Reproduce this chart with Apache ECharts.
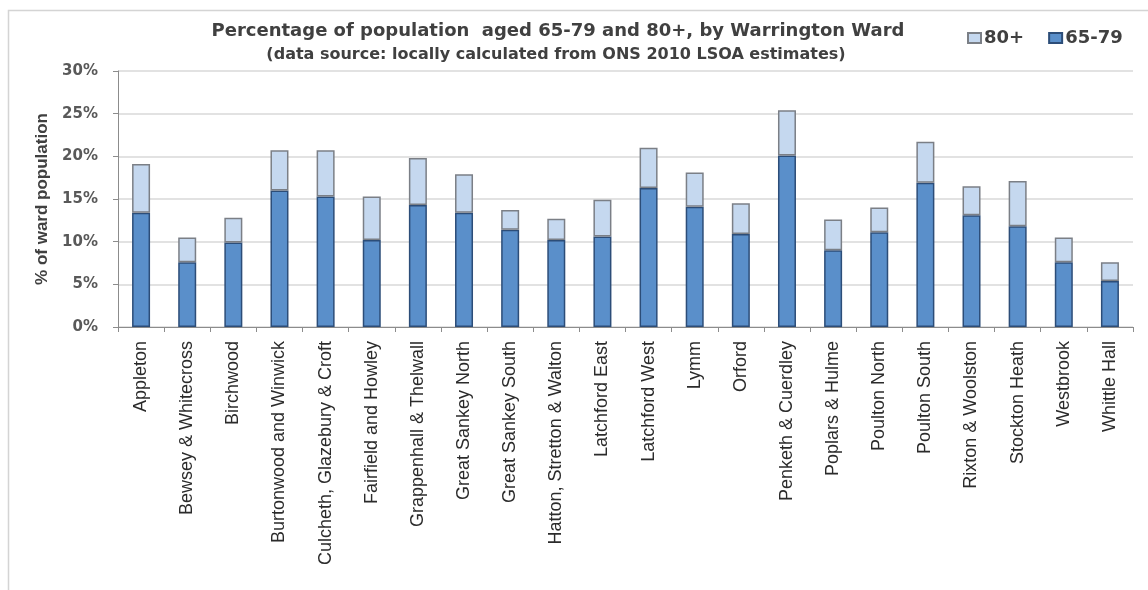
<!DOCTYPE html>
<html>
<head>
<meta charset="utf-8">
<script src="https://cdn.jsdelivr.net/npm/echarts@6/dist/echarts.min.js"></script>
<style>
  html, body { margin: 0; padding: 0; background: #ffffff; }
  #chart { width: 1148px; height: 590px; }
</style>
</head>
<body>
<div id="chart"></div>
<script>
// Warrington wards
const wards = [
  'Appleton', 'Bewsey & Whitecross', 'Birchwood', 'Burtonwood and Winwick',
  'Culcheth, Glazebury & Croft', 'Fairfield and Howley', 'Grappenhall & Thelwall',
  'Great Sankey North', 'Great Sankey South', 'Hatton, Stretton & Walton',
  'Latchford East', 'Latchford West', 'Lymm', 'Orford', 'Penketh & Cuerdley',
  'Poplars & Hulme', 'Poulton North', 'Poulton South', 'Rixton & Woolston',
  'Stockton Heath', 'Westbrook', 'Whittle Hall'
];

// % of ward population aged 65-79
const aged65to79 = [13.4, 7.6, 9.9, 16.0, 15.3, 10.2, 14.3, 13.4, 11.4, 10.2, 10.6,
  16.3, 14.1, 10.9, 20.1, 9.0, 11.1, 16.9, 13.1, 11.8, 7.6, 5.4];

// % of ward population aged 80+
const aged80plus = [5.7, 2.9, 2.9, 4.7, 5.4, 5.1, 5.5, 4.5, 2.3, 2.5, 4.3,
  4.7, 4.0, 3.6, 5.3, 3.6, 2.9, 4.8, 3.4, 5.3, 2.9, 2.2];

// y-axis ticks (percent)
const yTicks = [0, 5, 10, 15, 20, 25, 30];

const chart = echarts.init(document.getElementById('chart'));

chart.setOption({
  backgroundColor: '#ffffff',
  animation: false,
  title: [
    {
      text: 'Percentage of population  aged 65-79 and 80+, by Warrington Ward',
      left: 553, top: 17, textAlign: 'center',
      textStyle: { fontFamily: 'DejaVu Sans', fontSize: 18, fontWeight: 'bold', color: '#404040' }
    },
    {
      text: '(data source: locally calculated from ONS 2010 LSOA estimates)',
      left: 551, top: 42, textAlign: 'center',
      textStyle: { fontFamily: 'DejaVu Sans', fontSize: 16, fontWeight: 'bold', color: '#404040' }
    }
  ],
  legend: {
    data: ['80+', '65-79'],
    left: 962, top: 24,
    icon: 'rect',
    itemWidth: 13, itemHeight: 10, itemGap: 24,
    textStyle: { fontFamily: 'DejaVu Sans', fontSize: 18, fontWeight: 'bold', color: '#404040', padding: [0, 0, 0, -2] }
  },
  graphic: [
    {
      type: 'rect', silent: true, z: -10,
      shape: { x: 8.5, y: 10.5, width: 1200, height: 700 },
      style: { fill: 'none', stroke: '#d4d4d4', lineWidth: 1.5 }
    }
  ],
  grid: { left: 118, right: 15, top: 71, bottom: 263, containLabel: false },
  xAxis: {
    type: 'category',
    data: wards,
    axisLine: { lineStyle: { color: '#8c8c8c', width: 1 } },
    axisTick: { show: true, length: 5, alignWithLabel: false, lineStyle: { color: '#8c8c8c' } },
    axisLabel: {
      interval: 0, rotate: 90, margin: 14,
      fontFamily: 'Liberation Sans', fontSize: 18, color: '#2b2b2b'
    }
  },
  yAxis: {
    type: 'value',
    min: yTicks[0], max: yTicks[yTicks.length - 1], interval: 5,
    name: '% of ward population',
    nameLocation: 'middle', nameGap: 62, nameRotate: 90,
    nameTextStyle: { fontFamily: 'Liberation Sans', fontSize: 17, fontWeight: 'bold', color: '#404040' },
    axisLine: { show: true, lineStyle: { color: '#8c8c8c' } },
    axisTick: { show: true, length: 5, lineStyle: { color: '#8c8c8c' } },
    axisLabel: {
      formatter: v => v + '%', margin: 20,
      fontFamily: 'DejaVu Sans', fontSize: 15, fontWeight: 'bold', color: '#595959'
    },
    splitLine: { lineStyle: { color: '#d9d9d9', width: 1.5 } }
  },
  series: [
    {
      name: '65-79', type: 'bar', stack: 'age', barWidth: 18,
      data: aged65to79,
      itemStyle: { color: '#5a8fca', borderColor: '#2c4d78', borderWidth: 1.5 }
    },
    {
      name: '80+', type: 'bar', stack: 'age', barWidth: 18,
      data: aged80plus,
      itemStyle: { color: '#c5d8ef', borderColor: '#7b7f86', borderWidth: 1.5 }
    }
  ]
});
</script>
</body>
</html>
